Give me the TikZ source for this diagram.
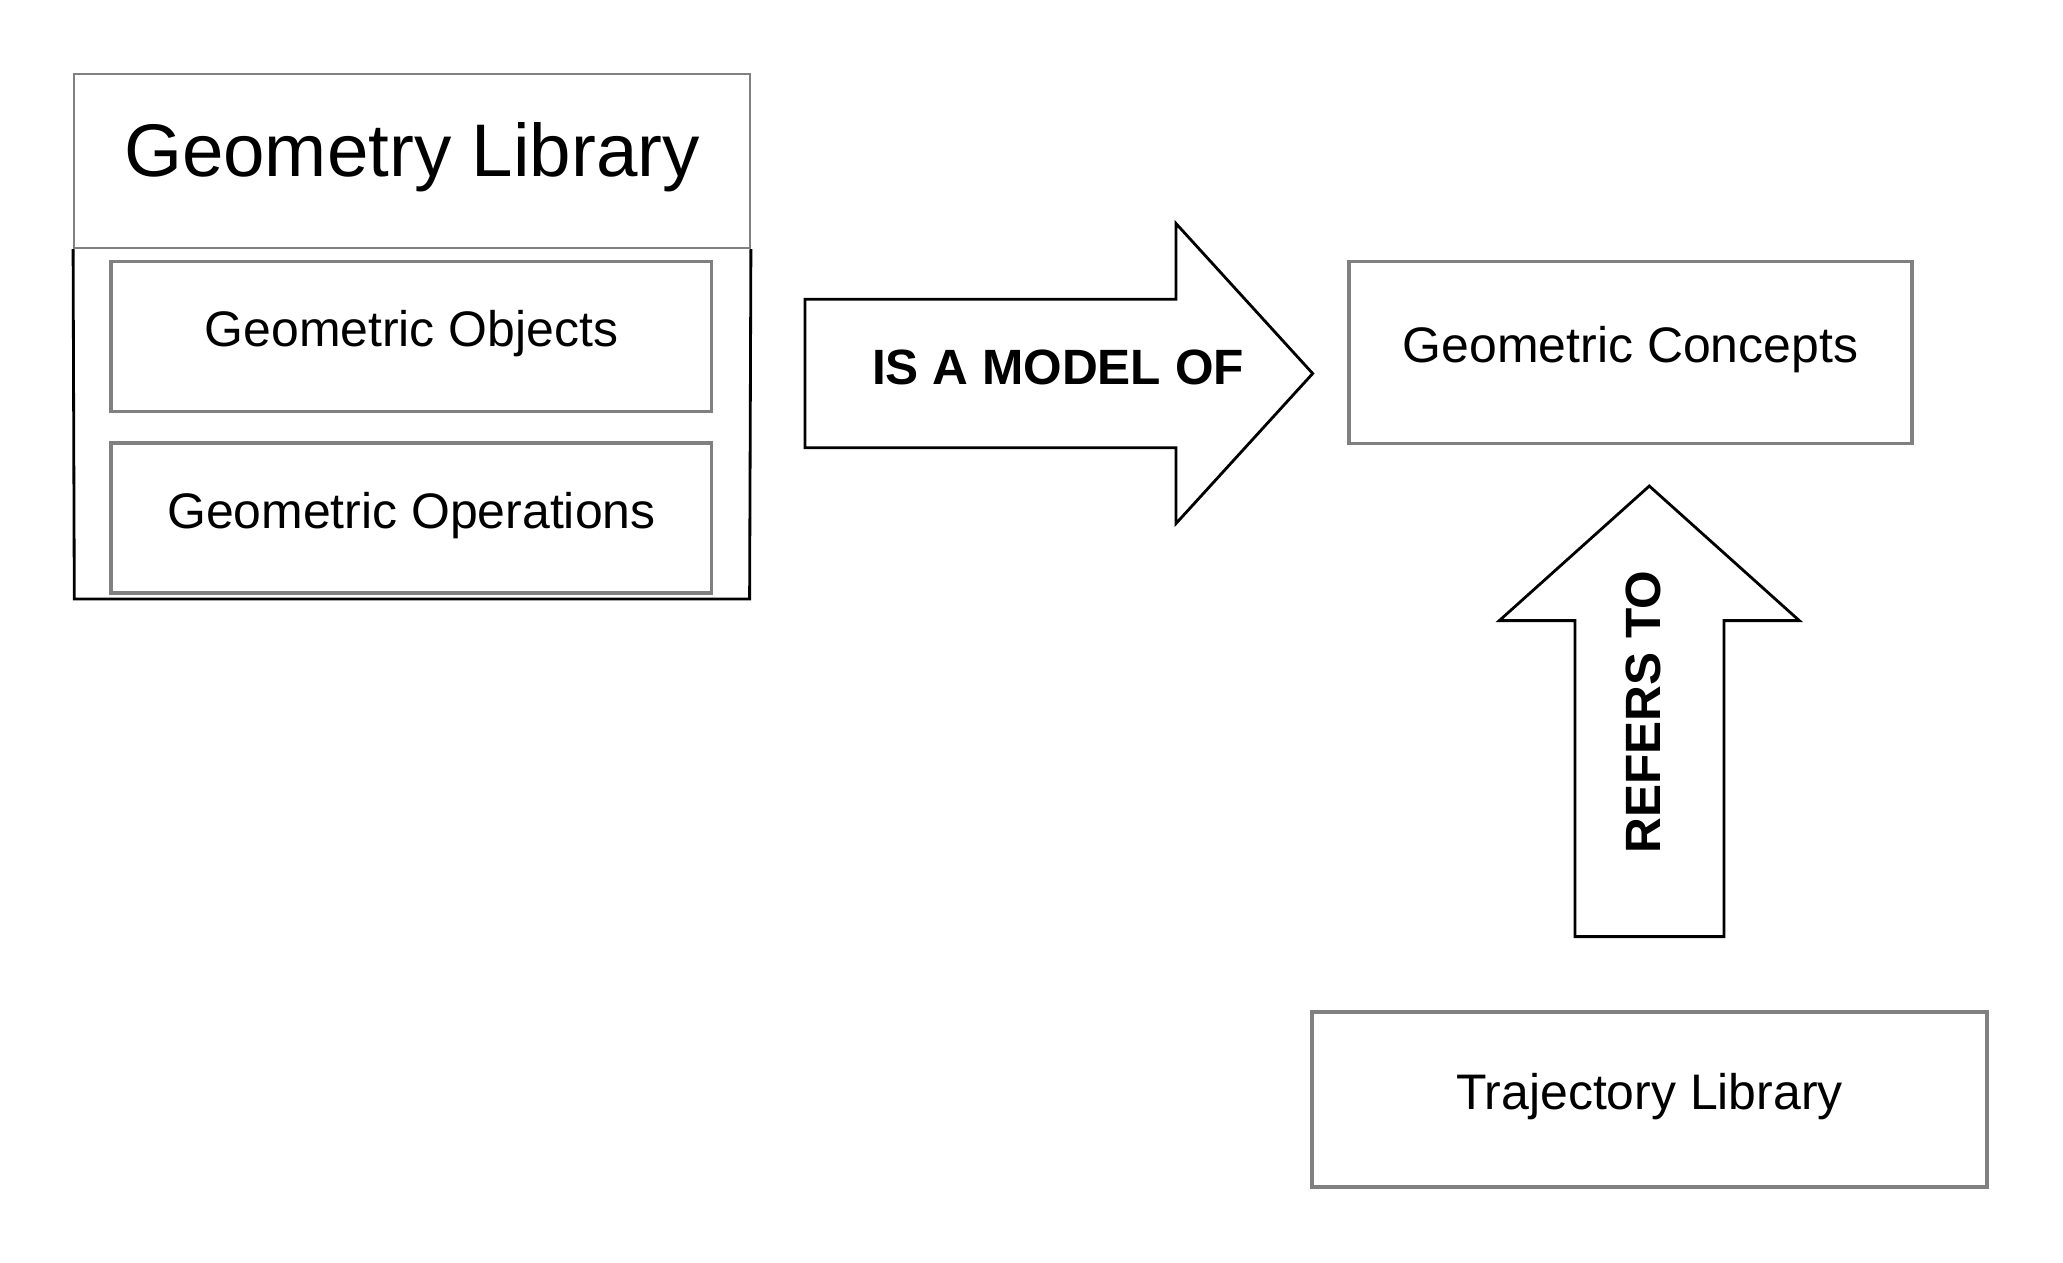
\documentclass[tikz,border=0pt]{standalone}
\usepackage{fontspec}
\setmainfont{Liberation Sans}
\begin{document}
\begin{tikzpicture}[x=0.01cm,y=-0.01cm,
        box/.style={draw=black!50,line width=1pt,inner sep=0pt,text height=10.3pt,text depth=4.6pt,font=\fontsize{14.2}{17}\selectfont},
        blockarrow/.style={draw=black,line width=0.8pt,line join=miter},
        arrowtext/.style={font=\fontsize{14.1}{17}\selectfont\bfseries}]
            \useasboundingbox (0,0) rectangle (2063,1262);
            % library on the left
            \node[box,line width=0.6pt,minimum width=6.753cm,minimum height=1.738cm,text height=15.5pt,text depth=6.7pt,font=\fontsize{21.2}{25}\selectfont] (geolib) at (412,161.2) {Geometry Library};
            \draw[black,line width=0.8pt] (geolib.south west) -- (74.3,599) -- (749.6,599) -- (geolib.south east);
            \node[box,minimum width=6.003cm,minimum height=1.5cm] (objects) at (411.4,336.3) {Geometric Objects};
            \node[box,minimum width=6.003cm,minimum height=1.5cm] (operations) at (411.4,518) {Geometric Operations};
            % concepts and trajectories
            \node[box,minimum width=5.63cm,minimum height=1.82cm] (concepts) at (1630.5,352.4) {Geometric Concepts};
            \node[box,minimum width=6.75cm,minimum height=1.75cm] (trajlib) at (1649.5,1099.5) {Trajectory Library};
            % block arrows
            \draw[blockarrow] (805,299.2) -- (1176,299.2) -- (1176,223.5) -- (1312.7,373.5) -- (1176,523.5) -- (1176,447.8) -- (805,447.8) -- cycle;
            \node[arrowtext] (modelof) at (1058,367) {IS A MODEL OF};
            \draw[blockarrow] (1575,936.6) -- (1575,620.6) -- (1499.3,620.6) -- (1649.3,486) -- (1799.3,620.6) -- (1724,620.6) -- (1724,936.6) -- cycle;
            \node[arrowtext,rotate=90] (refersto) at (1643.5,712) {REFERS TO};
        \end{tikzpicture}
\end{document}
